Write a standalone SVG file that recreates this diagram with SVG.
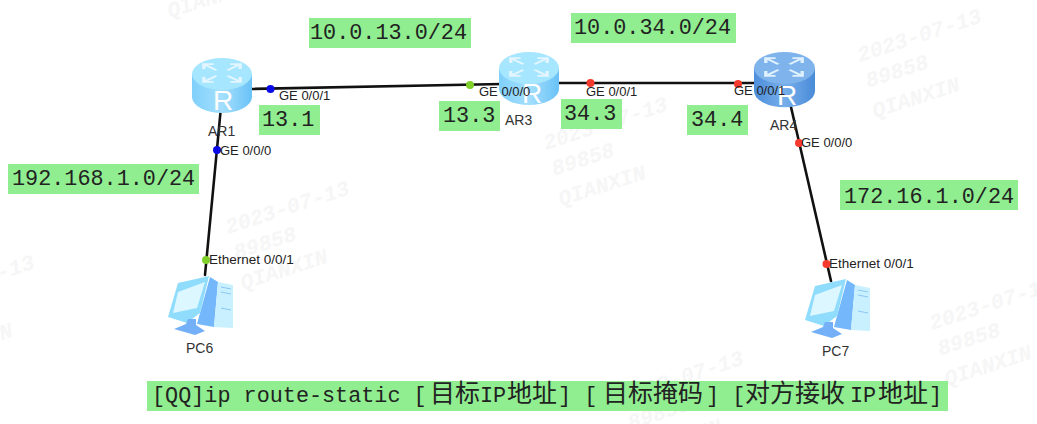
<svg xmlns="http://www.w3.org/2000/svg" width="1037" height="424" viewBox="0 0 1037 424">
<style>
.lb{font:13px "Liberation Sans",Arial,sans-serif;fill:#222}
.eth{font-size:13.5px}
.nm{font:14px "Liberation Sans",Arial,sans-serif;fill:#333}
.tag{fill:#90ee90}
.mono{font:21.8px "Liberation Mono","Noto Sans CJK SC",monospace;fill:#222}
.cjk{font-family:"Noto Sans CJK SC",sans-serif;font-size:25px}
.wm{font:italic bold 21.5px "Liberation Mono",monospace;fill:#f6f6f6}
.ln{stroke:#111;stroke-width:2.6;fill:none;stroke-linecap:round}
.r{font:28px "Liberation Sans",Arial,sans-serif;fill:#fff;text-anchor:middle}
.blue{fill:#0a0ae6}.green{fill:#80d02c}.red{fill:#f73a2e}
</style>
<defs>
<linearGradient id="lite" x1="0" x2="1" y1="0" y2="0"><stop offset="0" stop-color="#7fd0fb"/><stop offset=".5" stop-color="#a5dffd"/><stop offset="1" stop-color="#69c2f7"/></linearGradient>
<linearGradient id="dark" x1="0" x2="1" y1="0" y2="0"><stop offset="0" stop-color="#4d8fdb"/><stop offset=".5" stop-color="#76aeea"/><stop offset="1" stop-color="#4a8bd8"/></linearGradient>
<g id="arrows" fill="none" stroke="#eaf8ff" stroke-width="2.4" opacity=".9" transform="translate(30 15) scale(1.4 .68)">
<path d="M-4-4-13-13M-13-6V-13H-6"/><path d="M4-4 13-13M6-13H13V-6"/><path d="M-4 4-13 13M-13 6V13H-6"/><path d="M4 4 13 13M6 13H13V6"/>
</g>
<g id="wmark">
<text class="wm" x="0" y="0">2023-07-13</text>
<text class="wm" x="0" y="27">89858</text>
<text class="wm" x="-3" y="58">QIANXIN</text>
</g>
<g id="pc">
<path d="M43 2 51 7 47 52 30 49 33 38Z" fill="#74b8fb"/>
<path d="M51 7 66 10V53L47 52Z" fill="#c8f0ff"/>
<path d="M54 12 64 14M54 17 64 19M54 33 64 35" stroke="#8cc8f5" stroke-width="1" fill="none"/>
<path d="M1 42 11 8 42 1 33 38 20 48Z" fill="#8fdcfd"/>
<path d="M11 17 38 7 30 33 6 38Z" fill="#dcf7ff"/>
<path d="M7 54 19 49 21 44 29 44 29 50 38 56 28 60Z" fill="#74b0f8"/>
</g>
</defs>
<rect width="1037" height="424" fill="#fff"/>
<g id="watermarks">
<use href="#wmark" transform="translate(860 62) rotate(-18)"/>
<use href="#wmark" transform="translate(546 150) rotate(-18)"/>
<use href="#wmark" transform="translate(228 234) rotate(-18)"/>
<use href="#wmark" transform="translate(-87 308) rotate(-18)"/>
<use href="#wmark" transform="translate(932 330) rotate(-18)"/>
<use href="#wmark" transform="translate(622 404) rotate(-18)"/>
<use href="#wmark" transform="translate(155 -38) rotate(-18)"/>
</g>
<g id="connectors">
<path class="ln" d="M250 89 502 84"/>
<path class="ln" d="M557 83H756"/>
<path class="ln" d="M220.500 112 205 275"/>
<path class="ln" d="M791 107 831 281"/>
</g>
<g id="AR1"><g transform="translate(192 58)"><path d="M0 16V39A30 16 0 0 0 60 39V16Z" fill="url(#lite)"/><ellipse cx="30" cy="16" rx="30" ry="16" fill="#a6e6ff"/><use href="#arrows"/><text class="r" x="31" y="52">R</text></g><text class="nm" x="208" y="136">AR1</text></g>
<g id="AR3"><g transform="translate(499 52)"><path d="M0 16V37A30 16 0 0 0 60 37V16Z" fill="url(#lite)"/><ellipse cx="30" cy="16" rx="30" ry="16" fill="#a6e6ff"/><use href="#arrows"/><text class="r" x="33" y="51">R</text></g><text class="nm" x="505" y="125">AR3</text></g>
<g id="AR4"><g transform="translate(754 52)"><path d="M0 16V39A30 16 0 0 0 61 39V16Z" fill="url(#dark)"/><ellipse cx="30.500" cy="16" rx="30.500" ry="16" fill="#7fb3ec"/><use href="#arrows"/><text class="r" x="33" y="53">R</text></g><text class="nm" x="770" y="130">AR4</text></g>
<g id="PC6"><use href="#pc" transform="translate(167 275)"/><text class="nm" x="186" y="353">PC6</text></g>
<g id="PC7"><use href="#pc" transform="translate(804 278)"/><text class="nm" x="822" y="356">PC7</text></g>
<g id="ports">
<circle class="blue" cx="270.500" cy="89" r="4"/><circle class="blue" cx="217" cy="150" r="4"/>
<circle class="green" cx="206" cy="260" r="4"/><circle class="green" cx="470" cy="85" r="4"/>
<circle class="red" cx="590.500" cy="83" r="4"/><circle class="red" cx="738" cy="84" r="4"/>
<circle class="red" cx="799" cy="143" r="4"/><circle class="red" cx="826.500" cy="264" r="4"/>
<text class="lb" x="279" y="100">GE 0/0/1</text>
<text class="lb" x="220" y="155">GE 0/0/0</text>
<text class="lb" x="479" y="96">GE 0/0/0</text>
<text class="lb" x="586" y="96">GE 0/0/1</text>
<text class="lb" x="734" y="95">GE 0/0/1</text>
<text class="lb" x="801" y="147">GE 0/0/0</text>
<text class="lb eth" x="209" y="264">Ethernet 0/0/1</text>
<text class="lb eth" x="829" y="268">Ethernet 0/0/1</text>
</g>
<g id="annotations">
<rect class="tag" x="309" y="18" width="162" height="30"/><text class="mono" x="310" y="39">10.0.13.0/24</text>
<rect class="tag" x="571" y="13" width="165" height="30"/><text class="mono" x="574" y="34">10.0.34.0/24</text>
<rect class="tag" x="8" y="164" width="191" height="30"/><text class="mono" x="12" y="185">192.168.1.0/24</text>
<rect class="tag" x="840" y="180" width="178" height="30"/><text class="mono" x="844" y="203">172.16.1.0/24</text>
<rect class="tag" x="259" y="105" width="61" height="30"/><text class="mono" x="262" y="126">13.1</text>
<rect class="tag" x="439" y="101" width="61" height="30"/><text class="mono" x="443" y="122">13.3</text>
<rect class="tag" x="561" y="99" width="61" height="30"/><text class="mono" x="564" y="120">34.3</text>
<rect class="tag" x="687" y="105" width="61" height="30"/><text class="mono" x="691" y="126">34.4</text>
<rect class="tag" x="147" y="381" width="801" height="30"/>
<text class="mono" y="402"><tspan x="152">[QQ]ip route-static [</tspan><tspan class="cjk" x="430">目标</tspan><tspan x="480">IP</tspan><tspan class="cjk" x="507">地址</tspan><tspan x="558">] [</tspan><tspan class="cjk" x="603">目标掩码</tspan><tspan x="706">] [</tspan><tspan class="cjk" x="745">对方接收</tspan><tspan x="850">IP</tspan><tspan class="cjk" x="878">地址</tspan><tspan x="929">]</tspan></text>
</g>
</svg>
